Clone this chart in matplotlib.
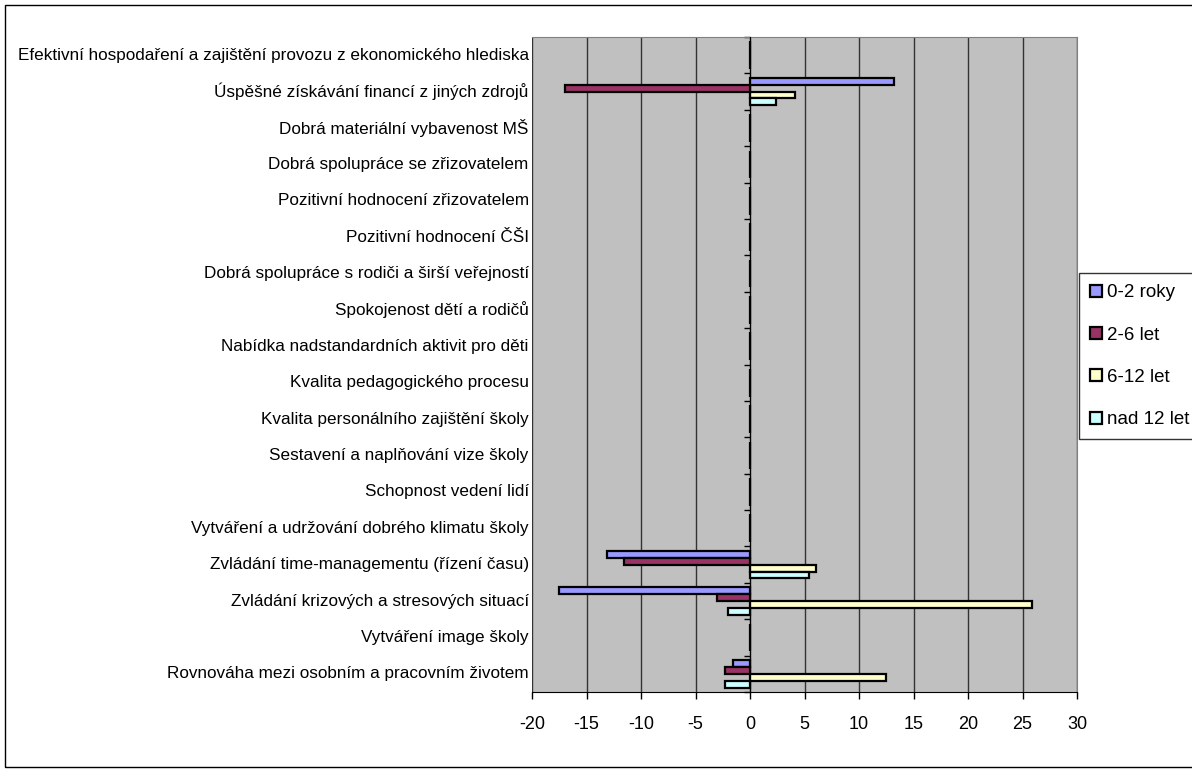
import matplotlib
matplotlib.use('Agg')
import matplotlib.pyplot as plt
import matplotlib.transforms as mtransforms
from matplotlib.patches import Rectangle
import numpy as np

# Data
categories = [
    'Efektivní hospodaření a zajištění provozu z ekonomického hlediska',
    'Úspěšné získávání financí z jiných zdrojů',
    'Dobrá materiální vybavenost MŠ',
    'Dobrá spolupráce se zřizovatelem',
    'Pozitivní hodnocení zřizovatelem',
    'Pozitivní hodnocení ČŠI',
    'Dobrá spolupráce s rodiči a širší veřejností',
    'Spokojenost dětí a rodičů',
    'Nabídka nadstandardních aktivit pro děti',
    'Kvalita pedagogického procesu',
    'Kvalita personálního zajištění školy',
    'Sestavení a naplňování vize školy',
    'Schopnost vedení lidí',
    'Vytváření a udržování dobrého klimatu školy',
    'Zvládání time-managementu (řízení času)',
    'Zvládání krizových a stresových situací',
    'Vytváření image školy',
    'Rovnováha mezi osobním a pracovním životem',
]
series_names = ['0-2 roky', '2-6 let', '6-12 let', 'nad 12 let']
s_0_2 = [0, 13.2, 0, 0, 0, 0, 0, 0, 0, 0, 0, 0, 0, 0, -13.1, -17.5, 0, -1.6]
s_2_6 = [0, -17.0, 0, 0, 0, 0, 0, 0, 0, 0, 0, 0, 0, 0, -11.6, -3.0, 0, -2.3]
s_6_12 = [0, 4.1, 0, 0, 0, 0, 0, 0, 0, 0, 0, 0, 0, 0, 6.1, 25.9, 0, 12.5]
s_nad12 = [0, 2.4, 0, 0, 0, 0, 0, 0, 0, 0, 0, 0, 0, 0, 5.4, -2.0, 0, -2.3]
colors = ['#9999FF', '#993366', '#FFFFCC', '#CCFFFF']

plt.rcParams['font.family'] = ['Liberation Sans', 'DejaVu Sans']
plt.rcParams['axes.unicode_minus'] = False

fig = plt.figure(figsize=(11.92, 7.72), dpi=100)
ax = fig.add_axes([532/1192, 1 - 692/772, (1077 - 532)/1192, (692 - 37)/772])
ax.set_facecolor('#C0C0C0')

y = np.arange(len(categories))
h = 0.19
handles = []
for i, (vals, col) in enumerate(zip([s_0_2, s_2_6, s_6_12, s_nad12], colors)):
    bars = ax.barh(y - 1.5*h + i*h, vals, height=h, color=col, edgecolor='black',
                   linewidth=1.6, zorder=3)
    handles.append(bars)

ax.set_xlim(-20, 30)
ax.set_ylim(len(categories) - 0.5, -0.5)
ax.set_xticks(np.arange(-20, 31, 5))
ax.tick_params(axis='x', labelsize=13, length=5, width=1, pad=12)
ax.grid(axis='x', color='#333333', linewidth=1, zorder=1)

# category axis sits on zero
ax.spines['left'].set_position(('data', 0))
ax.spines['left'].set_zorder(4)
ax.set_yticks(np.arange(len(categories) + 1) - 0.5)
ax.set_yticklabels([])
ax.tick_params(axis='y', length=4, width=1, direction='out')
for s in ['top', 'right']:
    ax.spines[s].set_color('#808080')
ax.spines['bottom'].set_color('black')

trans = mtransforms.blended_transform_factory(ax.transAxes, ax.transData)
for yi, cat in zip(y, categories):
    ax.text(-0.006, yi, cat, transform=trans, ha='right', va='center', fontsize=12.3)

leg = fig.legend(handles, series_names, loc='upper left',
                 bbox_to_anchor=(1079/1192, 1 - 273/772), fontsize=13.5,
                 frameon=True, fancybox=False, edgecolor='black',
                 handlelength=0.6, handleheight=0.6, handletextpad=0.3,
                 labelspacing=1.35, borderpad=0.6, borderaxespad=0)
leg.get_frame().set_linewidth(1)

fig.patches.append(Rectangle((5/1192, 5/772), 1.1, 1 - 10/772, transform=fig.transFigure,
                             fill=False, edgecolor='black', linewidth=1))

fig.savefig('out.png', dpi=100)
